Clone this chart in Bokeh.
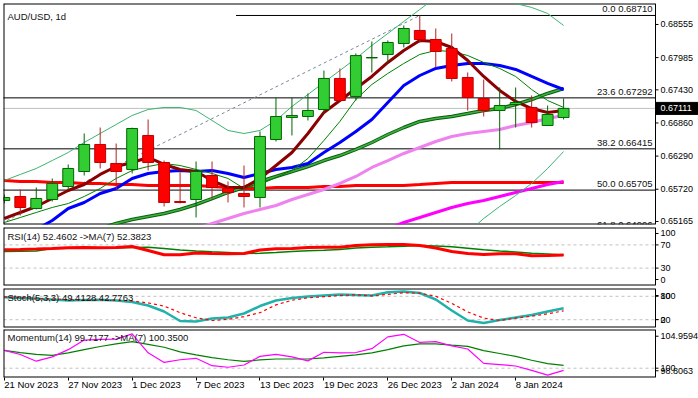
from bokeh.plotting import figure
from bokeh.layouts import column
from bokeh.models import Range1d, FixedTicker, Label, Span
from bokeh.core.properties import value
from bokeh.embed import file_html
from bokeh.resources import INLINE

NaN = float("nan")

# ---------------- data ----------------
title_text = "AUD/USD, 1d"
date_ticks = [0, 4, 8, 12, 16, 20, 24, 28, 32]
date_labels = ["21 Nov 2023", "27 Nov 2023", "1 Dec 2023", "7 Dec 2023", "13 Dec 2023",
               "19 Dec 2023", "26 Dec 2023", "2 Jan 2024", "8 Jan 2024"]

opens = [0.65527, 0.65595, 0.65389, 0.65544, 0.65767, 0.66025, 0.66490, 0.66163, 0.66060, 0.66645,
         0.66180, 0.65509, 0.65544, 0.65956, 0.65733, 0.65647, 0.65578, 0.66576, 0.66955, 0.66972,
         0.67092, 0.67626, 0.67316, 0.67979, 0.68039, 0.68228, 0.68452, 0.68297, 0.68142, 0.67643,
         0.67282, 0.67075, 0.67178, 0.67127, 0.66817, 0.66955]
highs = [0.65630, 0.65715, 0.65750, 0.65905, 0.66146, 0.66679, 0.66782, 0.66507, 0.66780, 0.66920,
         0.66214, 0.66008, 0.66197, 0.66197, 0.65853, 0.66128, 0.66714, 0.67299, 0.67299, 0.67368,
         0.67763, 0.67798, 0.68056, 0.68262, 0.68280, 0.68538, 0.68710, 0.68486, 0.68400, 0.67729,
         0.67608, 0.67471, 0.67471, 0.67333, 0.67161, 0.67282]
lows = [0.65475, 0.65268, 0.65371, 0.65509, 0.65715, 0.65956, 0.66077, 0.65715, 0.65991, 0.66042,
        0.65423, 0.65475, 0.65234, 0.65561, 0.65492, 0.65406, 0.65406, 0.66541, 0.66645, 0.66903,
        0.67023, 0.67230, 0.67247, 0.67729, 0.67901, 0.68159, 0.68245, 0.67815, 0.67574, 0.67075,
        0.66972, 0.66404, 0.66782, 0.66782, 0.66817, 0.66920]
closes = [0.65578, 0.65406, 0.65561, 0.65819, 0.66077, 0.66490, 0.66180, 0.66025, 0.66765, 0.66180,
          0.65492, 0.65492, 0.66025, 0.65750, 0.65664, 0.65595, 0.66628, 0.66972, 0.66989, 0.67075,
          0.67626, 0.67247, 0.68020, 0.67987, 0.68245, 0.68486, 0.68297, 0.68090, 0.67626, 0.67299,
          0.67075, 0.67161, 0.67213, 0.66868, 0.67006, 0.67111]

ma_maroon = [0.65216, 0.65320, 0.65423, 0.65560, 0.65698, 0.65801, 0.65974, 0.66111, 0.66180, 0.66266,
             0.66146, 0.66060, 0.66025, 0.65870, 0.65750, 0.65750, 0.65905, 0.66128, 0.66352, 0.66679,
             0.67041, 0.67247, 0.67454, 0.67660, 0.67901, 0.68108, 0.68280, 0.68262, 0.68159, 0.67935,
             0.67660, 0.67419, 0.67230, 0.67109, 0.67041, 0.67075]
ma_thin = [0.65147, 0.65233, 0.65320, 0.65406, 0.65474, 0.65595, 0.65733, 0.65905, 0.66042, 0.66111,
           0.66163, 0.66128, 0.66060, 0.65991, 0.65905, 0.65733, 0.65801, 0.65922, 0.66042, 0.66249,
           0.66559, 0.66886, 0.67264, 0.67522, 0.67712, 0.67884, 0.68039, 0.68108, 0.68090, 0.68021,
           0.67901, 0.67798, 0.67660, 0.67436, 0.67247, 0.67127]
ma_blue = [0.64752, 0.64872, 0.65027, 0.65182, 0.65388, 0.65492, 0.65647, 0.65733, 0.65905, 0.65991,
           0.66025, 0.66042, 0.66025, 0.66042, 0.65991, 0.65922, 0.65991, 0.66060, 0.66094, 0.66163,
           0.66352, 0.66524, 0.66714, 0.66920, 0.67213, 0.67505, 0.67677, 0.67798, 0.67849, 0.67884,
           0.67884, 0.67849, 0.67781, 0.67660, 0.67540, 0.67436]
bb_upper = [0.65870, 0.65974, 0.66077, 0.66214, 0.66352, 0.66524, 0.66679, 0.66834, 0.66989, 0.67092,
            0.67127, 0.67127, 0.67075, 0.66903, 0.66731, 0.66679, 0.66731, 0.66903, 0.67144, 0.67350,
            0.67557, 0.67763, 0.67970, 0.68194, 0.68400, 0.68607, 0.68813, 0.69020, 0.69123, 0.69140,
            0.69106, 0.68968, 0.68916, 0.68848, 0.68744, 0.68538]
bb_lower = [NaN] * 29 + [0.64975, 0.65216, 0.65423, 0.65612, 0.65819, 0.66077, 0.66369]
ma_green = [NaN] * 6 + [0.65044, 0.65130, 0.65199, 0.65251, 0.65302, 0.65371, 0.65457, 0.65560, 0.65664,
                        0.65750, 0.65853, 0.65939, 0.66025, 0.66111, 0.66214, 0.66300, 0.66404, 0.66524,
                        0.66662, 0.66782, 0.66886, 0.66937, 0.66972, 0.67023, 0.67075, 0.67109, 0.67178,
                        0.67264, 0.67368, 0.67454]
ma_violet = [NaN] * 12 + [0.65044, 0.65130, 0.65216, 0.65302, 0.65371, 0.65440, 0.65543, 0.65629, 0.65715,
                          0.65819, 0.65939, 0.66094, 0.66214, 0.66335, 0.66438, 0.66541, 0.66627, 0.66679,
                          0.66714, 0.66748, 0.66817, 0.66868, 0.66937, 0.66989]
ma_magenta = [NaN] * 24 + [0.65044, 0.65147, 0.65233, 0.65320, 0.65406, 0.65474, 0.65526, 0.65595,
                           0.65664, 0.65733, 0.65801, 0.65853]
ma_red = [0.65870, 0.65853, 0.65853, 0.65836, 0.65836, 0.65819, 0.65819, 0.65801, 0.65801, 0.65784,
          0.65784, 0.65784, 0.65784, 0.65767, 0.65750, 0.65733, 0.65733, 0.65750, 0.65750, 0.65750,
          0.65767, 0.65767, 0.65784, 0.65784, 0.65784, 0.65784, 0.65801, 0.65819, 0.65836, 0.65836,
          0.65836, 0.65836, 0.65836, 0.65836, 0.65836, 0.65836]

fib_names = ["0.0", "23.6", "38.2", "50.0", "61.8"]
fib_prices = [0.68710, 0.67292, 0.66415, 0.65705, 0.64996]
fib_x0 = [14.5, -1, -1, -1, -1]
trend_x = [-18, 26]
trend_y = [0.62700, 0.68710]

price_ticks = [0.65165, 0.65720, 0.66290, 0.66860, 0.67430, 0.67985, 0.68555]

rsi = [61.6, 62.1, 62.9, 63.8, 65.0, 65.5, 65.0, 65.5, 67.2, 60.3, 52.9, 52.9, 56.0, 55.2, 54.7, 55.2,
       61.2, 63.3, 63.8, 65.5, 66.0, 66.0, 69.0, 70.2, 70.7, 70.7, 69.0, 64.7, 58.6, 55.2, 53.4, 54.7,
       54.7, 51.2, 51.7, 52.4602]
rsi_ma = [58.6, 59.0, 59.5, 63.8, 64.3, 64.3, 64.3, 64.7, 65.5, 65.9, 63.8, 61.2, 59.5, 58.1, 56.9, 55.2,
          55.5, 56.9, 58.6, 59.8, 60.9, 62.1, 64.7, 66.0, 66.7, 67.6, 69.0, 68.1, 66.7, 64.3, 61.6, 59.5,
          57.8, 55.7, 54.3, 52.3823]
stoch_k = [77.7, 75.6, 73.6, 71.8, 69.2, 70.5, 71.0, 69.2, 65.4, 56.4, 41.0, 16.7, 15.4, 23.1, 25.6, 35.9,
           55.1, 69.2, 75.6, 79.5, 82.1, 84.6, 83.3, 82.1, 90.5, 92.3, 88.5, 71.8, 43.6, 17.9, 11.5, 19.2,
           25.6, 32.1, 41.0, 49.4128]
stoch_d = [78.5, 76.5, 74.5, 73.0, 71.5, 70.5, 70.3, 70.2, 68.0, 63.0, 55.0, 38.0, 25.0, 18.0, 21.0, 28.0,
           38.0, 58.0, 70.0, 76.0, 79.0, 82.0, 84.0, 81.0, 85.0, 89.0, 88.0, 80.0, 62.0, 40.0, 24.0, 18.0,
           24.0, 29.0, 35.0, 42.7763]
mom = [102.289, 101.760, 100.898, 101.452, 102.375, 103.606, 103.692, 103.729, 104.406, 101.969,
       100.738, 101.083, 101.268, 100.320, 100.123, 100.406, 101.514, 101.760, 101.452, 100.935,
       102.043, 101.969, 102.006, 102.498, 104.012, 104.344, 103.298, 103.396, 102.867, 102.461,
       100.615, 100.468, 100.283, 99.729, 99.114, 99.7177]
mom_ma = [102.289, 102.006, 101.760, 101.637, 101.969, 102.375, 102.781, 103.113, 103.396, 103.052,
          102.683, 102.092, 101.698, 101.354, 101.083, 100.861, 101.058, 101.181, 101.181, 101.181,
          101.329, 101.514, 101.698, 101.969, 102.375, 102.867, 103.113, 103.113, 102.953, 102.806,
          102.252, 101.883, 101.514, 101.021, 100.590, 100.3500]

rsi_levels = [30, 70]
stoch_levels = [20, 80]
mom_levels = [100]
mom_min, mom_max = 98.8063, 104.9594

# scale labels of the indicator panels (MT4 clamps the min/max labels inside the panel)
rsi_tick_pos = [10.3, 30, 70, 89.7]
rsi_tick_txt = ["0", "30", "70", "100"]
stoch_tick_pos = [20, 20.5, 80, 82]
stoch_tick_txt = ["20", "0", "80", "100"]
mom_tick_pos = [99.668, 100, 104.098]
mom_tick_txt = [f"{mom_min:.4f}", "100", f"{mom_max:.4f}"]

rsi_label = "RSI(14) 52.4602  ->MA(7) 52.3823"
stoch_label = "Stoch(5,3,3) 49.4128 42.7763"
mom_label = "Momentum(14) 99.7177  ->MA(7) 100.3500"

# ---------------- layout ----------------
FONT = "Liberation Sans"
FS = "9.5px"
AXFS = "9px"
TXT = "#111111"
W = 698
BL = 3
CHART_W = 652                               # chart-area width (left of the price scales)
X0, CH_END = -0.05, 40.75                   # bar-index span of the chart area
PXB = CHART_W / (CH_END - X0)               # pixels per bar
XA = Range1d(X0, X0 + (W - BL) / PXB)       # full frame incl. scale column
bars = list(range(len(opens)))


def make_panel(h, yr, top, bottom, with_x=False):
    p = figure(width=W, height=h, x_range=XA, y_range=yr, output_backend="svg",
               toolbar_location=None, x_axis_location="below" if with_x else None,
               y_axis_location=None, min_border_left=BL, min_border_right=0,
               min_border_top=top, min_border_bottom=bottom,
               outline_line_color=None, background_fill_color="white", border_fill_color="white")
    p.xgrid.visible = False
    p.ygrid.visible = False
    p.add_layout(Span(location=XA.start, dimension="height", line_color="black", line_width=2))
    p.add_layout(Span(location=CH_END, dimension="height", line_color="black", line_width=1))
    p.segment(x0=[XA.start] * 2, x1=[CH_END] * 2, y0=[yr.start, yr.end], y1=[yr.start, yr.end],
              line_color="black", line_width=2)
    return p


def scale(p, ticks, labels):
    n = len(ticks)
    p.segment(x0=[CH_END] * n, x1=[CH_END + 3 / PXB] * n, y0=ticks, y1=ticks,
              line_color="black", line_width=1)
    p.text(x=[CH_END] * n, y=ticks, text=labels, x_offset=5, text_align="left",
           text_baseline="middle", text_font=value(FONT), text_font_size=value(AXFS),
           text_color="black")


def levels(p, lvls):
    n = len(lvls)
    p.segment(x0=[XA.start] * n, x1=[CH_END] * n, y0=lvls, y1=lvls,
              line_color="#C0C0C0", line_dash="3 3", line_width=1)


def panel_label(p, text, frame_h, dy):
    p.add_layout(Label(x=4, y=frame_h - dy, x_units="screen", y_units="screen", text=text,
                       text_font=FONT, text_font_size=FS, text_color=TXT,
                       text_baseline="middle", text_align="left"))


# ---- main price panel ----
MAIN_H, MAIN_T, MAIN_B = 225, 3, 1
MAIN_FH = MAIN_H - MAIN_T - MAIN_B
YR1 = Range1d(0.65113, 0.68916)
p1 = make_panel(MAIN_H, YR1, MAIN_T, MAIN_B)
px_price = (YR1.end - YR1.start) / MAIN_FH
scale(p1, price_ticks, [f"{t:.5f}" for t in price_ticks])

# current price line and tag
p1.segment(x0=[XA.start], x1=[CH_END], y0=[closes[-1]], y1=[closes[-1]], line_color="#C0C0C0", line_width=1)
p1.quad(left=[CH_END], right=[XA.end], top=[closes[-1] + 6 * px_price], bottom=[closes[-1] - 6 * px_price],
        fill_color="black", line_color="black")
p1.text(x=[CH_END], y=[closes[-1]], text=[f"{closes[-1]:.5f}"], x_offset=5,
        text_align="left", text_baseline="middle",
        text_font=value(FONT), text_font_size=value(AXFS), text_color="white")

# fibonacci levels and anchor trend line
p1.segment(x0=fib_x0, y0=fib_prices, x1=[CH_END] * len(fib_prices), y1=fib_prices,
           line_color="black", line_width=1)
p1.line(trend_x, trend_y, line_color="#778899", line_dash="3 3", line_width=1)

# indicator lines
p1.line(bars, ma_red, line_color="#FF0000", line_width=3)
p1.line(bars, ma_magenta, line_color="#FF00FF", line_width=3)
p1.line(bars, ma_violet, line_color="#EE82EE", line_width=3)
p1.line(bars, ma_green, line_color="#0B5E0B", line_width=3.5)
p1.line(bars, ma_green, line_color="#3CB043", line_width=1.5)
p1.line(bars, bb_upper, line_color="#3CB371", line_width=1)
p1.line(bars, bb_lower, line_color="#3CB371", line_width=1)
p1.line(bars, ma_blue, line_color="#0000FF", line_width=3)
p1.line(bars, ma_thin, line_color="#008000", line_width=1)
p1.line(bars, ma_maroon, line_color="#8B0000", line_width=3)

# candles
up = [c >= o for o, c in zip(opens, closes)]
ux = [b for b, u in zip(bars, up) if u]
dx = [b for b, u in zip(bars, up) if not u]
sel = lambda arr, flag: [v for v, u in zip(arr, up) if u == flag]
p1.segment(x0=ux, y0=sel(highs, True), x1=ux, y1=sel(lows, True), line_color="#006400", line_width=1)
p1.segment(x0=dx, y0=sel(highs, False), x1=dx, y1=sel(lows, False), line_color="#B22222", line_width=1)
p1.vbar(x=ux, width=0.68, top=sel(closes, True), bottom=sel(opens, True),
        fill_color="#32CD32", line_color="#006400", line_width=1)
p1.vbar(x=dx, width=0.68, top=sel(opens, False), bottom=sel(closes, False),
        fill_color="#FF0000", line_color="#C00000", line_width=1)

p1.text(x=[CH_END] * len(fib_prices), y=fib_prices,
        text=[f"{n} {v:.5f}" for n, v in zip(fib_names, fib_prices)],
        x_offset=-3, y_offset=-1, text_align="right", text_baseline="bottom",
        text_font=value(FONT), text_font_size=value(FS), text_color=TXT)
panel_label(p1, title_text, MAIN_FH, 13)

# ---- RSI panel ----
RSI_H, RSI_T, RSI_B = 62, 2, 2
p2 = make_panel(RSI_H, Range1d(0, 100), RSI_T, RSI_B)
scale(p2, rsi_tick_pos, rsi_tick_txt)
levels(p2, rsi_levels)
p2.line(bars, rsi_ma, line_color="#008000", line_width=1.5)
p2.line(bars, rsi, line_color="#FF0000", line_width=3)
panel_label(p2, rsi_label, RSI_H - RSI_T - RSI_B, 9)

# ---- Stochastic panel ----
ST_H, ST_T, ST_B = 41, 1, 1
p3 = make_panel(ST_H, Range1d(0, 100), ST_T, ST_B)
scale(p3, stoch_tick_pos, stoch_tick_txt)
levels(p3, stoch_levels)
p3.line(bars, stoch_k, line_color="#20B2AA", line_width=2.5)
p3.line(bars, stoch_d, line_color="#FF0000", line_width=1.2, line_dash="3 3")
panel_label(p3, stoch_label, ST_H - ST_T - ST_B, 8.5)

# ---- Momentum panel ----
MO_H, MO_T, MO_B = 70, 1, 19
p4 = make_panel(MO_H, Range1d(mom_min, mom_max), MO_T, MO_B, with_x=True)
scale(p4, mom_tick_pos, mom_tick_txt)
levels(p4, mom_levels)
p4.line(bars, mom_ma, line_color="#008000", line_width=1.2)
p4.line(bars, mom, line_color="#FF00FF", line_width=1.2)
panel_label(p4, mom_label, MO_H - MO_T - MO_B, 10)

xa = p4.xaxis[0]
xa.ticker = FixedTicker(ticks=date_ticks)
xa.major_label_overrides = dict(zip(date_ticks, date_labels))
xa.major_label_orientation = -0.0001
xa.major_label_text_align = "left"
xa.major_label_text_font = FONT
xa.major_label_text_font_size = FS
xa.major_label_text_color = "black"
xa.major_label_standoff = 4
xa.major_tick_out = 3
xa.major_tick_in = 0
xa.major_tick_line_color = "black"
xa.minor_tick_line_color = None
xa.axis_line_color = None

layout = column(p1, p2, p3, p4, spacing=0)
open("out.html", "w").write(file_html(layout, INLINE))
